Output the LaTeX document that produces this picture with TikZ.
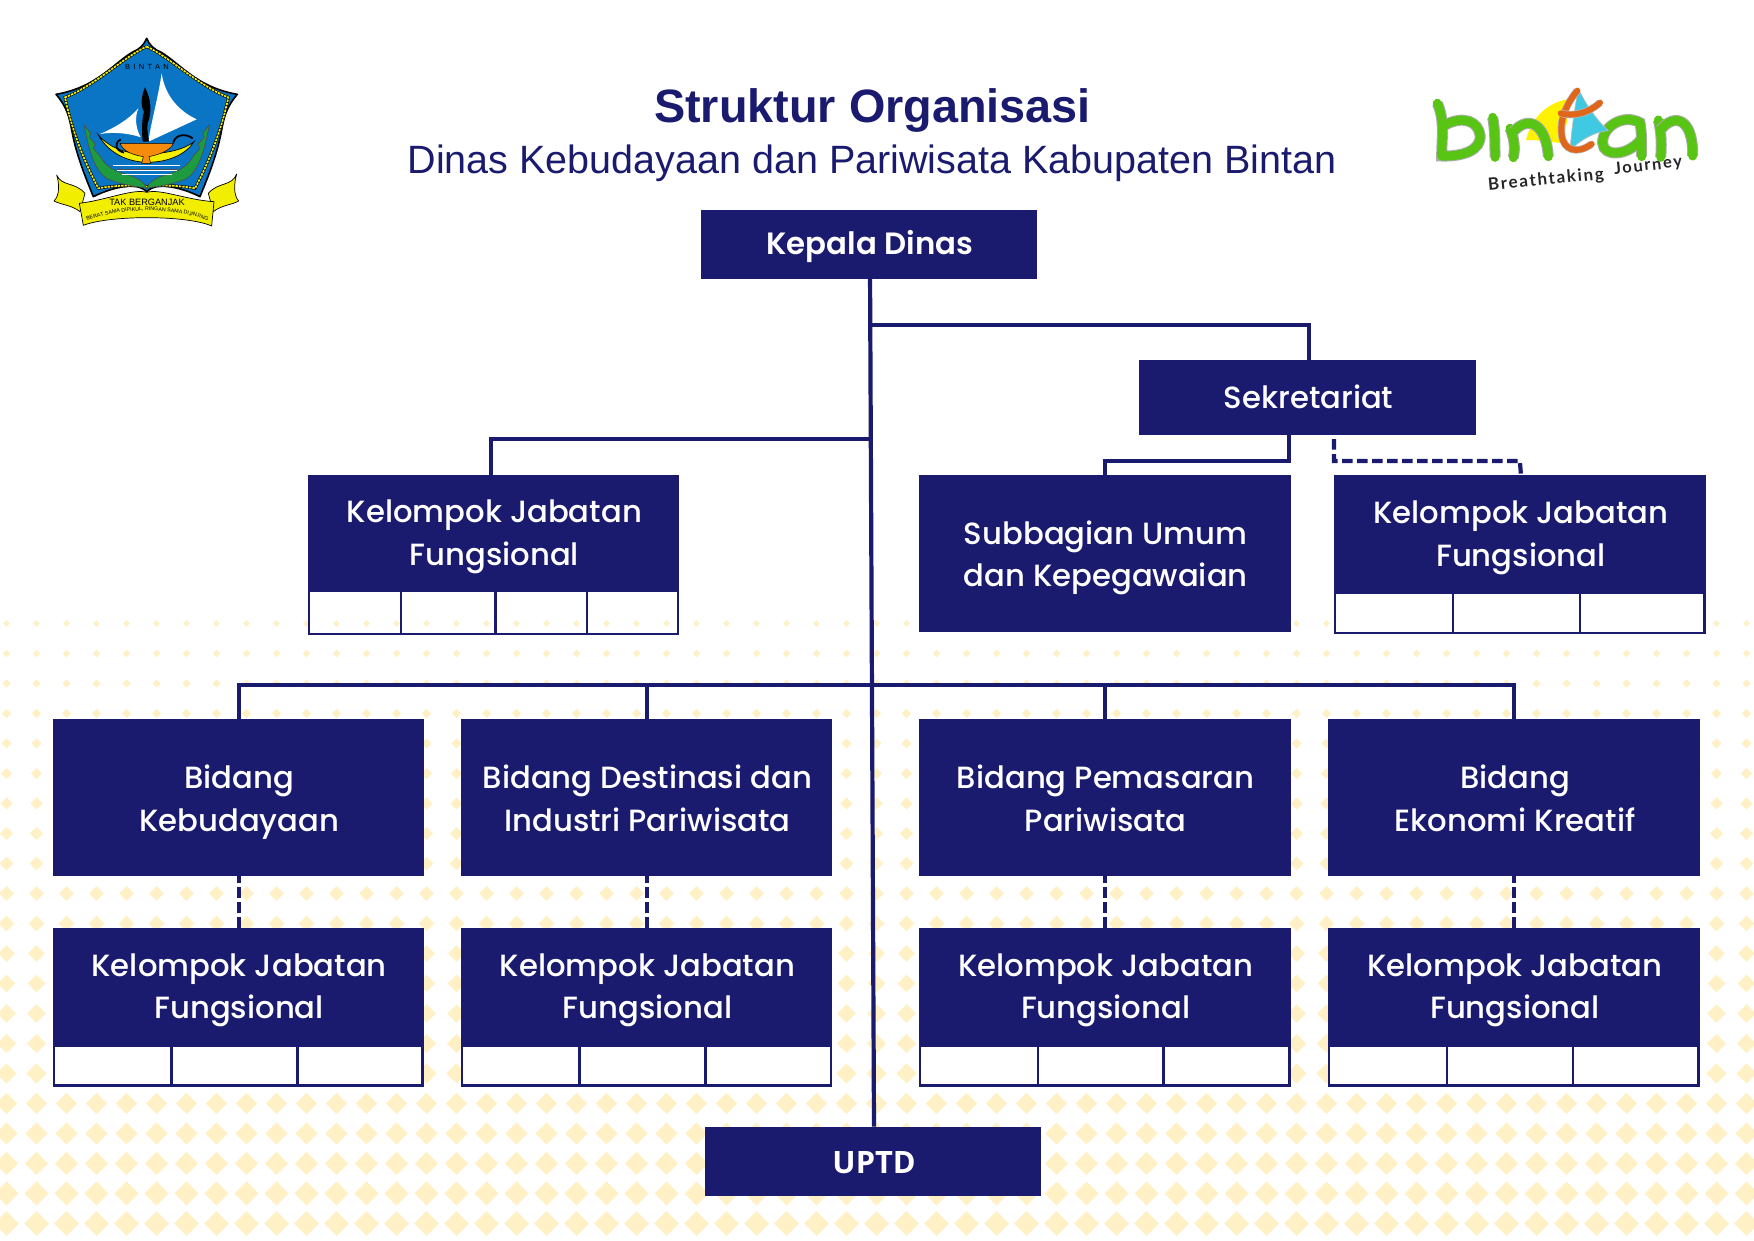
\documentclass[tikz,border=0pt]{standalone}
\usepackage{fontspec}
\usetikzlibrary{decorations.text}
\setmainfont{Poppins}
\newfontfamily\popm{Poppins Medium}
\newfontfamily\pops{Poppins SemiBold}
\newfontfamily\arial{Liberation Sans}
\newfontfamily\uptdf{Open Sans}
\newfontfamily\crestls[LetterSpace=45]{Liberation Sans}
\newfontfamily\handf[LetterSpace=10]{Lato}
\definecolor{navy}{HTML}{1A1A6E}
\definecolor{dot}{HTML}{FFF0C6}
\definecolor{crestblue}{HTML}{0A75C5}
\definecolor{crestyel}{HTML}{F2EE00}
\definecolor{crestgrn}{HTML}{1E9A3F}
\definecolor{crestorg}{HTML}{F58A0B}
\definecolor{bgreen}{HTML}{58C413}
\definecolor{borange}{HTML}{DF661A}
\definecolor{bblue}{HTML}{3FC9E3}
\tikzset{
  chartbox/.style={fill=navy,inner sep=0pt,outer sep=0pt,text=white,align=center,
    font=\popm\fontsize{30.7}{42.5}\selectfont},
  headbox/.style={chartbox,font=\pops\fontsize{30.8}{41.7}\selectfont},
  cellbox/.style={draw=navy,fill=white,line width=2.4pt,inner sep=0pt,outer sep=0pt},
  cellopen/.style={draw=navy,line width=2.4pt,inner sep=0pt,outer sep=0pt},
  link/.style={draw=navy,line width=4.2pt,line cap=butt,line join=miter},
  dashlink/.style={link,dash pattern=on 10.5pt off 4.5pt},
  titletext/.style={text=navy,inner sep=0pt,anchor=base},
  letterG/.style={draw=bgreen,line width=9pt,line cap=round,line join=round,
    preaction={draw=gray!65,line width=11pt}},
  letterO/.style={draw=borange,line width=6pt,line cap=round,line join=round,
    preaction={draw=gray!55,line width=7.4pt}},
}
\newcommand{\chartnode}[6]{%
  \pgfmathsetmacro\cbx{(#3+#5)/2}\pgfmathsetmacro\cby{(#4+#6)/2}%
  \pgfmathsetmacro\cbw{abs(#5-#3)}\pgfmathsetmacro\cbh{abs(#6-#4)}%
  \node[#1,minimum width=\cbw pt,minimum height=\cbh pt] (#2) at (\cbx,\cby)}
\newcommand{\twolines}[2]{\hspace*{2.2pt}\rule{0pt}{33pt}#1\\\hspace*{2.2pt}#2\rule[-7.7pt]{0pt}{7.7pt}}
\newcommand{\kjlabel}{\hspace*{2.2pt}\rule{0pt}{30.6pt}Kelompok Jabatan\\\hspace*{2.2pt}Fungsional\rule[-7.7pt]{0pt}{7.7pt}}
\begin{document}
\begin{tikzpicture}[x=1pt,y=-1pt]
\useasboundingbox (0,0) rectangle (1754,1240);
% dotted backdrop
\begin{scope}
\clip (0,0) rectangle (1754,1240);
\foreach \row in {0,...,20}{
  \pgfmathsetmacro\dy{623.5+30*\row}
  \pgfmathsetmacro\dh{3.3+(\dy-623.5)*0.0153}
  \foreach \col in {0,...,58}{
    \pgfmathsetmacro\dx{6.5+30*\col}
    \fill[dot] (\dx-\dh,\dy) -- (\dx,\dy-\dh) -- (\dx+\dh,\dy) -- (\dx,\dy+\dh) -- cycle;
  }
}
\end{scope}
% crest
\begin{scope}[xscale=1/3,yscale=1/3]
\path[fill=crestblue,draw=black,line width=1.6pt,line join=round]
 (440,115) .. controls (448,135) and (462,148) .. (482,156)
 .. controls (540,190) and (590,262) .. (712,283)
 .. controls (680,320) and (672,350) .. (664,395)
 .. controls (650,470) and (620,540) .. (600,590)
 .. controls (550,565) and (500,555) .. (470,560)
 .. controls (455,563) and (445,570) .. (440,575)
 .. controls (435,570) and (425,563) .. (410,560)
 .. controls (380,555) and (330,565) .. (280,590)
 .. controls (260,540) and (230,470) .. (216,395)
 .. controls (208,350) and (200,320) .. (168,283)
 .. controls (290,262) and (340,190) .. (398,156)
 .. controls (418,148) and (432,135) .. (440,115) -- cycle;
\path[draw=crestyel,line width=1.7pt,dash pattern=on 2.4pt off 1pt,
      preaction={draw=black,line width=2.8pt,dash pattern=on 1pt off 0pt}]
 (440,140) .. controls (500,165) and (600,260) .. (685,292)
 .. controls (665,390) and (625,490) .. (585,565)
 .. controls (530,555) and (470,555) .. (440,560)
 .. controls (410,555) and (350,555) .. (295,565)
 .. controls (255,490) and (215,390) .. (195,292)
 .. controls (280,260) and (380,165) .. (440,140) -- cycle;
% leaves
\path[fill=crestgrn,draw=black!70,line width=.6pt]
 (252,375) -- (272,400) -- (268,412) -- (286,432) -- (280,445) -- (300,468)
 .. controls (320,505) and (350,515) .. (385,525)
 .. controls (415,535) and (432,545) .. (440,565)
 .. controls (420,560) and (360,555) .. (320,535)
 .. controls (280,510) and (265,440) .. (252,375) -- cycle;
\path[fill=crestgrn,draw=black!70,line width=.6pt]
 (628,375) -- (608,400) -- (612,412) -- (594,432) -- (600,445) -- (580,468)
 .. controls (560,505) and (530,515) .. (495,525)
 .. controls (465,535) and (448,545) .. (440,565)
 .. controls (460,560) and (520,555) .. (560,535)
 .. controls (600,510) and (615,440) .. (628,375) -- cycle;
% sails and mast
\fill[white] (485,220) .. controls (495,290) and (540,335) .. (590,358)
  -- (445,425) .. controls (455,360) and (475,290) .. (485,220) -- cycle;
\fill[white] (415,325) .. controls (385,360) and (340,385) .. (300,402)
  .. controls (340,395) and (390,400) .. (422,412) .. controls (405,380) and (405,350) .. (415,325) -- cycle;
\fill[black] (435,262) .. controls (455,300) and (455,340) .. (443,370)
  .. controls (440,390) and (445,410) .. (447,425) -- (428,425)
  .. controls (425,395) and (425,360) .. (432,335) .. controls (420,315) and (425,285) .. (435,262) -- cycle;
% boat
\path[fill=crestyel,draw=black,line width=.7pt]
 (295,405) .. controls (320,450) and (370,485) .. (440,487)
 .. controls (510,487) and (560,460) .. (582,425)
 .. controls (550,450) and (500,460) .. (440,462)
 .. controls (380,462) and (330,445) .. (295,405) -- cycle;
\path[fill=crestorg,draw=black,line width=.5pt]
 (360,430) -- (520,430) .. controls (510,455) and (470,465) .. (447,470)
 -- (452,490) -- (425,490) -- (430,470) .. controls (400,465) and (370,455) .. (360,430) -- cycle;
\draw[black,line width=1.8pt] (362,418) .. controls (342,430) and (345,450) .. (372,458);
\draw[black,line width=1.8pt] (520,428) .. controls (525,405) and (555,398) .. (578,415);
% water
\foreach \wy/\wa/\wb in {496/340/540,510/350/530,524/365/515}
  \draw[white,line width=1pt,preaction={draw=black!70,line width=1.5pt}] (\wa,\wy) -- (\wb,\wy);
% ribbon
\path[fill=crestyel,draw=black,line width=.7pt,line join=round]
 (170,525) .. controls (185,560) and (225,545) .. (255,580)
 -- (240,635) .. controls (215,615) and (185,615) .. (162,603)
 .. controls (180,585) and (178,550) .. (170,525) -- cycle;
\path[fill=crestyel,draw=black,line width=.7pt,line join=round]
 (710,522) .. controls (695,560) and (655,545) .. (625,580)
 -- (640,635) .. controls (665,615) and (695,615) .. (716,603)
 .. controls (700,585) and (702,550) .. (710,522) -- cycle;
\path[fill=crestyel,draw=black,line width=.7pt,line join=round]
 (238,610) .. controls (320,600) and (400,565) .. (440,577)
 .. controls (480,565) and (560,600) .. (642,605)
 -- (635,678) .. controls (560,645) and (330,645) .. (250,676) -- cycle;
\end{scope}
\node[text=black,inner sep=0pt,font=\crestls\fontsize{7.5}{8}\selectfont] (crestname) at (147,67) {BINTAN};
\node[text=black,inner sep=0pt,font=\arial\fontsize{9.2}{10}\selectfont] (crestmotto) at (147,202) {TAK BERGANJAK};
\path[decorate,decoration={text along path,text align=center,
  text={|\arial\fontsize{5.3}{6}\selectfont|BERAT SAMA DIPIKUL, RINGAN SAMA DIJINJING}}]
  (85,222) .. controls (115,207) and (178,207) .. (210,222);
% tourism logo
\begin{scope}[shift={(1400,60)},xscale=1/3,yscale=1/3]
\path[fill=yellow] (378,240) .. controls (395,170) and (445,125) .. (512,116)
  -- (490,250) -- (400,240) -- cycle;
\path[letterG] (112,130) .. controls (135,180) and (125,240) .. (125,288)
   .. controls (190,290) and (245,270) .. (240,225) .. controls (235,185) and (190,165) .. (135,195);
\path[letterG] (278,172) .. controls (285,210) and (285,250) .. (285,292);
\path[letterG] (330,205) .. controls (345,240) and (345,270) .. (340,293);
\path[letterG] (340,215) .. controls (390,160) and (440,200) .. (445,290);
\path[letterG] (725,290) .. controls (725,250) and (725,215) .. (720,188)
   .. controls (670,160) and (605,200) .. (608,250) .. controls (610,290) and (680,290) .. (722,240);
\path[letterG] (775,180) .. controls (785,220) and (785,260) .. (782,292);
\path[letterG] (782,210) .. controls (820,160) and (880,170) .. (878,288);
\path[fill=bblue,draw=gray!50,line width=.7pt] (535,85) .. controls (555,130) and (590,180) .. (625,212)
  .. controls (585,215) and (540,240) .. (510,272) .. controls (515,200) and (525,140) .. (535,85) -- cycle;
\path[letterO] (532,92) .. controls (500,130) and (478,180) .. (485,225)
   .. controls (490,270) and (530,285) .. (575,252);
\path[letterO] (482,160) .. controls (520,170) and (565,160) .. (600,128);
\end{scope}
\node[text=black!85,inner sep=0pt,rotate=5.5,font=\handf\bfseries\fontsize{17}{18}\selectfont] (brandA) at (1546,180) {Breathtaking};
\node[text=black!85,inner sep=0pt,rotate=6,font=\handf\bfseries\fontsize{16.5}{18}\selectfont] (brandB) at (1648,166) {Journey};
% titles
\node[titletext,font=\arial\bfseries\fontsize{46.8}{50}\selectfont] (title) at (872.5,122.7) {Struktur Organisasi};
\node[titletext,font=\arial\fontsize{39.5}{44}\selectfont] (subtitle) at (872,173) {Dinas Kebudayaan dan Pariwisata Kabupaten Bintan};
% boxes
\chartnode{headbox}{kadis}{700.5}{209.5}{1037}{278.7} {\hspace*{2.2pt}\rule{0pt}{28.4pt}Kepala Dinas};
\chartnode{chartbox}{sek}{1139}{359.7}{1476}{435} {\hspace*{2.2pt}\rule[-2.2pt]{0pt}{2.2pt}Sekretariat};
\chartnode{chartbox}{sub}{918.5}{474.7}{1290.7}{632} {\twolines{Subbagian Umum}{dan Kepegawaian}};
\chartnode{chartbox}{bida}{52.5}{719.2}{423.7}{875.7} {\twolines{Bidang}{Kebudayaan}};
\chartnode{chartbox}{bidb}{460.7}{719.2}{832}{875.7} {\twolines{Bidang Destinasi dan}{Industri Pariwisata}};
\chartnode{chartbox}{bidc}{918.7}{719.2}{1290.5}{875.7} {\twolines{Bidang Pemasaran}{Pariwisata}};
\chartnode{chartbox}{bidd}{1328}{719.2}{1699.7}{875.7} {\twolines{Bidang}{Ekonomi Kreatif}};
\chartnode{headbox}{uptd}{704.7}{1126.7}{1041.3}{1196} {\hspace*{2.2pt}\rule{0pt}{24.4pt}\uptdf\bfseries UPTD};
% functional groups
\chartnode{chartbox}{kja}{307.5}{475}{679}{590.5} {\kjlabel};
\chartnode{cellopen}{kja1}{308.7}{590.5}{401}{634} {};
\chartnode{cellopen}{kja2}{401}{590.5}{495.5}{634} {};
\chartnode{cellopen}{kja3}{495.5}{590.5}{587}{634} {};
\chartnode{cellopen}{kja4}{587}{590.5}{677.8}{634} {};
\chartnode{chartbox}{kjb}{1334}{474.7}{1705.7}{592.6} {\kjlabel};
\chartnode{cellbox}{kjb1}{1335.2}{592.3}{1452.7}{632.8} {};
\chartnode{cellbox}{kjb2}{1452.7}{592.3}{1580}{632.8} {};
\chartnode{cellbox}{kjb3}{1580}{592.3}{1704.5}{632.8} {};
\chartnode{chartbox}{kjc}{52.5}{927.7}{423.7}{1045.5} {\kjlabel};
\chartnode{cellbox}{kjc1}{53.7}{1045.5}{171.4}{1085.6} {};
\chartnode{cellbox}{kjc2}{171.4}{1045.5}{297.3}{1085.6} {};
\chartnode{cellbox}{kjc3}{297.3}{1045.5}{422.5}{1085.6} {};
\chartnode{chartbox}{kjd}{460.7}{927.7}{832}{1045.5} {\kjlabel};
\chartnode{cellbox}{kjd1}{461.9}{1045.5}{579.6}{1085.6} {};
\chartnode{cellbox}{kjd2}{579.6}{1045.5}{705.4}{1085.6} {};
\chartnode{cellbox}{kjd3}{705.4}{1045.5}{830.8}{1085.6} {};
\chartnode{chartbox}{kje}{918.7}{927.7}{1290.5}{1045.5} {\kjlabel};
\chartnode{cellbox}{kje1}{919.9}{1045.5}{1038.2}{1085.6} {};
\chartnode{cellbox}{kje2}{1038.2}{1045.5}{1163.5}{1085.6} {};
\chartnode{cellbox}{kje3}{1163.5}{1045.5}{1289.3}{1085.6} {};
\chartnode{chartbox}{kjf}{1328}{927.7}{1699.7}{1045.5} {\kjlabel};
\chartnode{cellbox}{kjf1}{1329.2}{1045.5}{1446.9}{1085.6} {};
\chartnode{cellbox}{kjf2}{1446.9}{1045.5}{1572.8}{1085.6} {};
\chartnode{cellbox}{kjf3}{1572.8}{1045.5}{1698.5}{1085.6} {};
% connectors
\coordinate (jsek) at (871,324.7);
\coordinate (jkja) at (871.8,438.7);
\coordinate (jbid) at (872.5,684.6);
\coordinate (dsek) at (1334,439);
\draw[link] ([xshift=1.3pt]kadis.south) -- ([xshift=1pt]uptd.north);
\draw[link] (jsek) -| ([xshift=1.5pt]sek.north);
\draw[link] (jkja) -| ([xshift=-2.4pt]kja.north);
\draw[link] ([xshift=-18.5pt]sek.south) |- (sub.north |- 0,461) -- (sub.north);
\draw[dashlink] (dsek) |- (kjb.north |- 0,461) -- ([xshift=1.1pt]kjb.north);
\draw[link] ([xshift=.9pt]bida.north) |- (jbid);
\draw[link] ([xshift=.6pt]bidb.north) -- ([xshift=.6pt]bidb.north |- jbid);
\draw[link] (bidc.north) -- (bidc.north |- jbid);
\draw[link] ([xshift=.5pt]bidd.north) |- (jbid);
\draw[dashlink] ([yshift=3.3pt,xshift=.9pt]bida.south) -- ([xshift=.9pt]kjc.north);
\draw[dashlink] ([yshift=3.3pt,xshift=.6pt]bidb.south) -- ([xshift=.6pt]kjd.north);
\draw[dashlink] ([yshift=3.3pt]bidc.south) -- (kje.north);
\draw[dashlink] ([yshift=3.3pt,xshift=.5pt]bidd.south) -- ([xshift=.5pt]kjf.north);
\end{tikzpicture}
\end{document}
